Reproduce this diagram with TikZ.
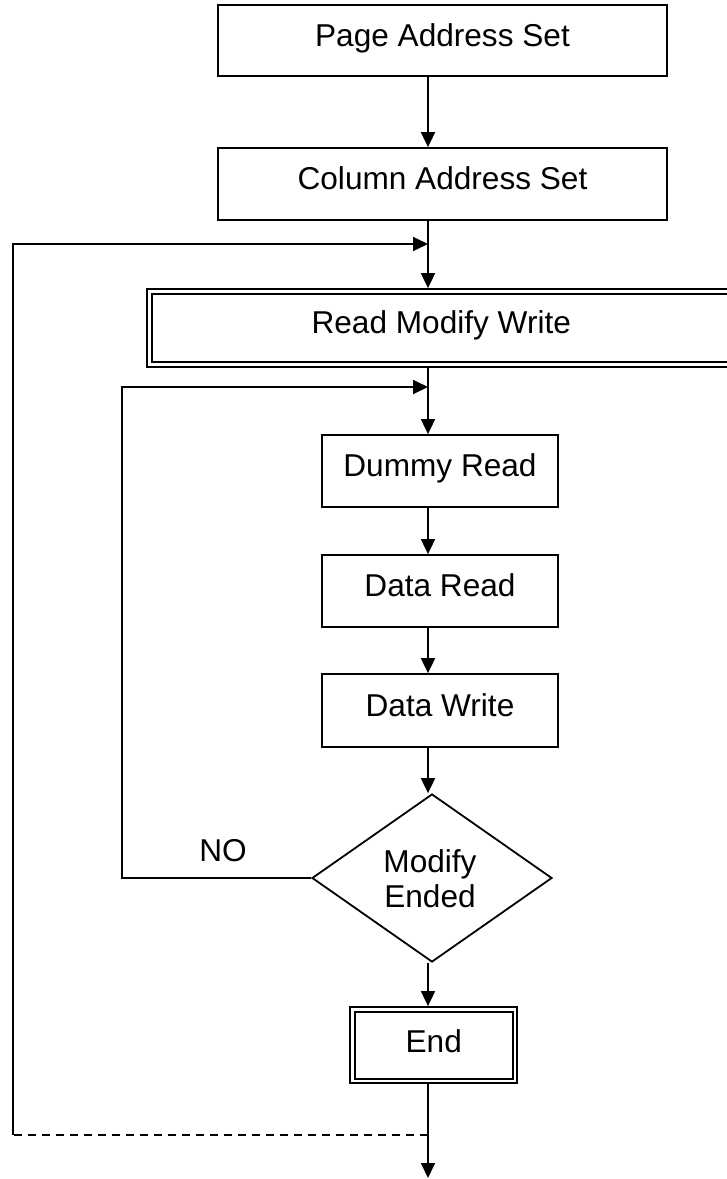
\documentclass[tikz,border=0pt]{standalone}
\usepackage{fontspec}
\setmainfont{Liberation Sans}
\usetikzlibrary{arrows.meta,shapes.geometric}
\begin{document}
\begin{tikzpicture}[x=1pt,y=-1pt,
  every node/.style={inner sep=0pt},
  box/.style={draw, line width=1.8pt, rectangle},
  dbox/.style={draw, rectangle, line width=2pt, double, double distance=2.8pt, outer sep=3.4pt},
  lbl/.style={font=\fontsize{31.6}{35}\selectfont, text height=22.7pt, text depth=6.6pt, yshift=2.3pt},
  arr/.style={line width=1.8pt, -{Triangle[width=14pt,length=15pt]}},
  con/.style={line width=1.8pt},
  dia/.style={draw, diamond, line width=1.8pt, minimum width=240pt, minimum height=168pt, inner sep=0pt}
]
\useasboundingbox (0,0) rectangle (727,1179);
\clip (0,0) rectangle (727,1179);

% nodes
\node[box, minimum width=449pt, minimum height=71pt, label={[lbl]center:Page Address Set}] (page) at (442.5,40.5) {};
\node[box, minimum width=449pt, minimum height=72pt, label={[lbl]center:Column Address Set}] (col) at (442.5,184) {};
\node[dbox, minimum width=583.5pt, minimum height=73pt, label={[lbl]center:Read Modify Write}] (rmw) at (441.25,328) {};
\node[box, minimum width=236pt, minimum height=72pt, label={[lbl]center:Dummy Read}] (dummy) at (440,471) {};
\node[box, minimum width=236pt, minimum height=72pt, label={[lbl]center:Data Read}] (dread) at (440,591) {};
\node[box, minimum width=236pt, minimum height=73pt, label={[lbl]center:Data Write}] (dwrite) at (440,710.5) {};
\node[dia, label={[font=\fontsize{31.6}{35}\selectfont, align=center, xshift=-2pt, yshift=-1pt]center:Modify\\Ended}] (dec) at (432,878) {};
\node[dbox, minimum width=162.5pt, minimum height=71.5pt, label={[lbl, yshift=-1.3pt]center:End}] (end) at (433.75,1045.25) {};
\node[font=\fontsize{31.6}{35}\selectfont, anchor=base] (no) at (223,861.5) {NO};

% coordinates
\coordinate (spine) at (428,0);
\coordinate (j1) at (428,244);
\coordinate (c1) at (13,1135);
\coordinate (j2) at (428,387);
\coordinate (lx2) at (122,0);
\coordinate (j3) at (428,1135);
\coordinate (out) at (428,1178);

% connectors
\draw[arr] (page.south -| spine) -- (col.north -| spine);
\draw[arr] (col.south -| spine) -- (rmw.north -| spine);
\draw[arr] (c1) |- (j1);
\draw[con, dash pattern=on 8pt off 6pt] (j3) -- (c1);
\draw[arr] (rmw.south -| spine) -- (dummy.north -| spine);
\draw[arr] (dummy.south -| spine) -- (dread.north -| spine);
\draw[arr] (dread.south -| spine) -- (dwrite.north -| spine);
\draw[arr] (dwrite.south -| spine) -- (dec.north -| spine);
\draw[arr] (dec.west) -- (dec.west -| lx2) |- (j2);
\draw[arr] (dec.south -| spine) -- (end.north -| spine);
\draw[arr] (end.south -| spine) -- (out);
\end{tikzpicture}
\end{document}
